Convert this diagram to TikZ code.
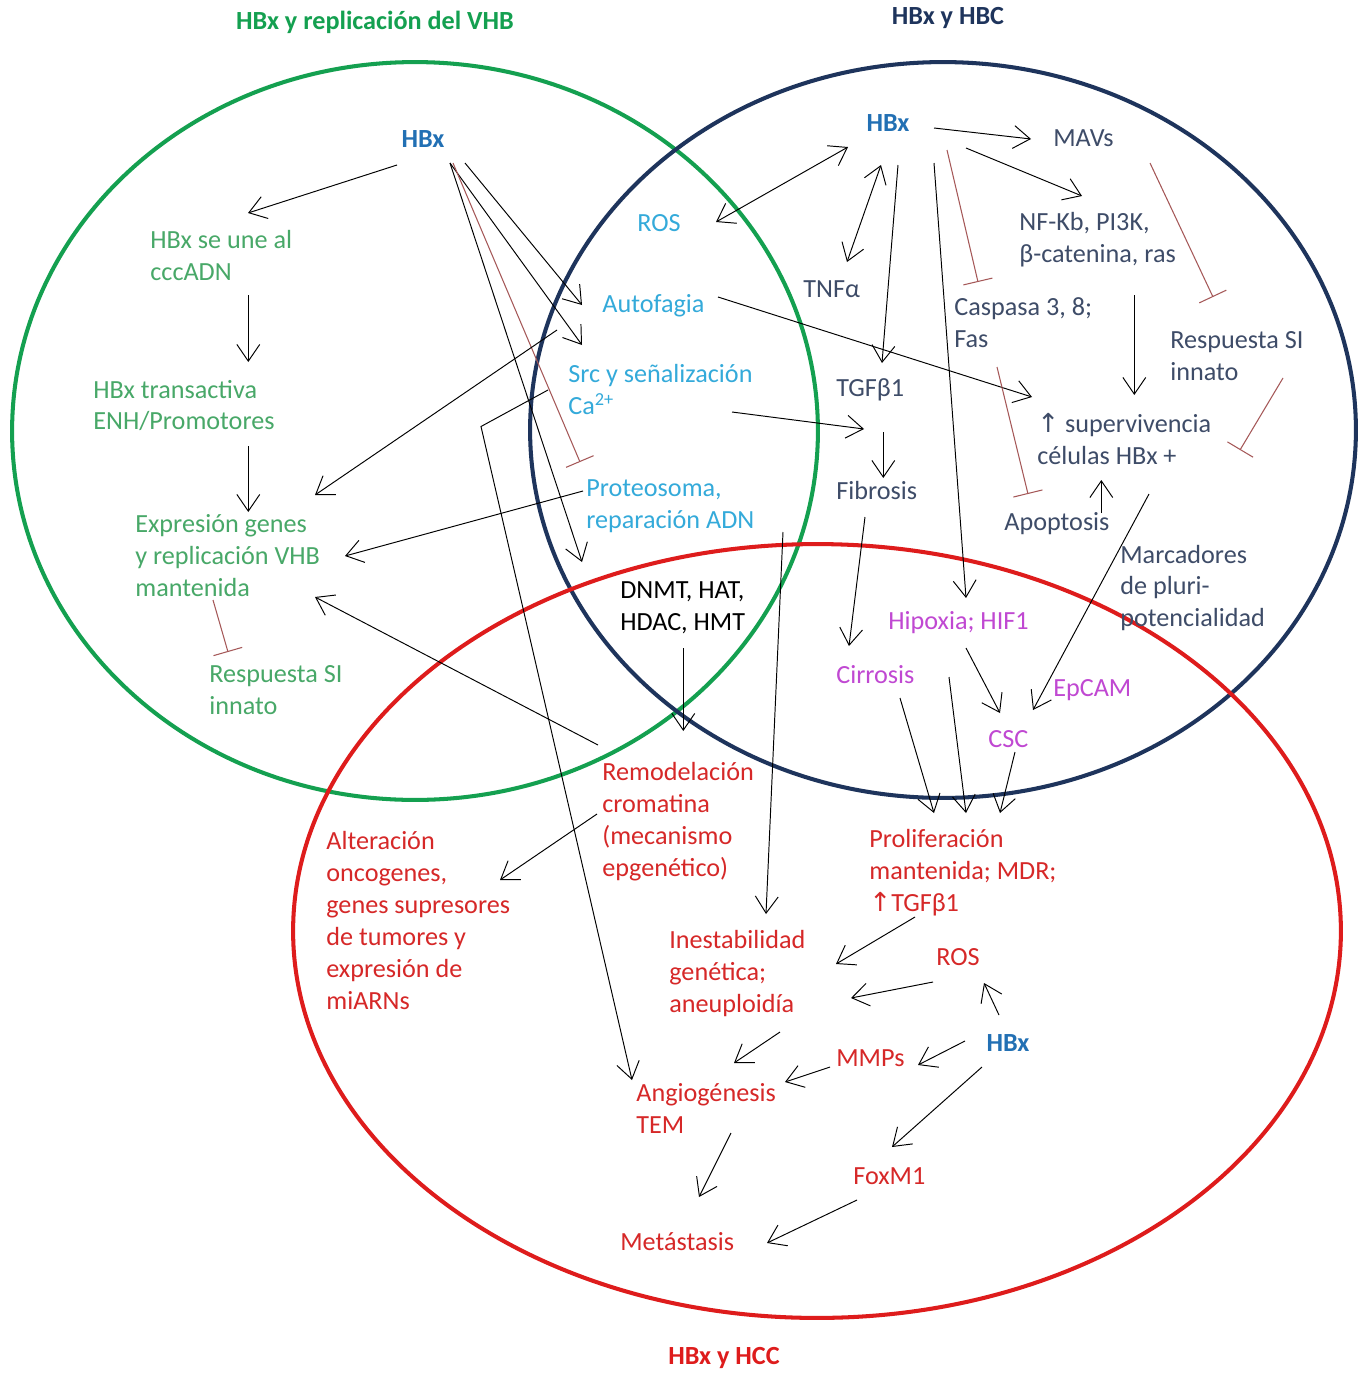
\documentclass[tikz,border=0pt]{standalone}
\usepackage{fontspec}
\setmainfont{Carlito}
\newfontfamily\symf{DejaVu Sans}
\usetikzlibrary{arrows.meta,calc}

\definecolor{ringgreen}{RGB}{20,160,80}
\definecolor{ringnavy}{RGB}{30,52,92}
\definecolor{ringred}{RGB}{222,28,28}
\definecolor{txtgreen}{RGB}{72,168,104}
\definecolor{txtcyan}{RGB}{52,170,218}
\definecolor{txtnavy}{RGB}{62,76,104}
\definecolor{hbxblue}{RGB}{34,112,180}
\definecolor{txtmag}{RGB}{192,72,210}
\definecolor{txtred}{RGB}{214,40,40}
\definecolor{inhcol}{RGB}{165,88,88}

\newcommand\lblfont{\fontsize{14.9pt}{18.2pt}\selectfont}

\tikzset{
  lbl/.style={anchor=west, align=left, inner sep=0pt, font=\lblfont},
  grn/.style={lbl, text=txtgreen},
  cyn/.style={lbl, text=txtcyan},
  nvy/.style={lbl, text=txtnavy},
  blk/.style={lbl, text=black},
  mag/.style={lbl, text=txtmag},
  rdt/.style={lbl, text=txtred},
  hbx/.style={inner sep=0pt, font=\lblfont\bfseries, text=hbxblue},
  ttl/.style={inner sep=0pt, font=\lblfont\bfseries},
  ring/.style={line width=2.3pt},
  tip/.tip={Straight Barb[length=9.5pt,width=13pt,line width=0.55pt]},
  arr/.style={line width=0.55pt, -tip},
  darr/.style={line width=0.55pt, tip-tip},
  inh/.style={draw=inhcol, line width=0.6pt, -{Bar[width=17pt,line width=0.6pt]}}
}

\begin{document}
\begin{tikzpicture}[x=0.02cm, y=-0.02cm]
\useasboundingbox[fill=white] (0,0) rectangle (1365,1373);

% the three overlapping domains
\draw[ring, ringgreen] (415,431) ellipse [x radius=8.06cm, y radius=7.38cm];
\draw[ring, ringnavy] (943,430) ellipse [x radius=8.26cm, y radius=7.36cm];
\draw[ring, ringred] (817,931) ellipse [x radius=10.48cm, y radius=7.74cm];

% titles
\node[ttl, text=ringgreen] (titleG) at (375,22) {HBx y replicación del VHB};
\node[ttl, text=ringnavy] (titleN) at (948,18) {HBx y HBC};
\node[ttl, text=ringred] (titleR) at (724,1358) {HBx y HCC};

% replication domain
\node[hbx] (hbxA) at (423,139) {HBx};
\node[grn] (cccadn) at (150,255.5) {HBx se une al\\cccADN};
\node[grn] (transact) at (93,405.5) {HBx transactiva\\ENH/Promotores};
\node[grn] (expres) at (135,556) {Expresión genes\\y replicación VHB\\mantenida};
\node[grn] (siG) at (209,690.5) {Respuesta SI\\innato};

% shared cellular processes
\node[cyn] (rosA) at (637,223) {ROS};
\node[cyn] (autof) at (602,306) {Autofagia};
\node[cyn] (src) at (568,389.5) {Src y señalización\\Ca\textsuperscript{2+}};
\node[cyn] (proteo) at (586,506.5) {Proteosoma,\\reparación ADN};

% chronic infection domain
\node[hbx] (hbxB) at (888,123) {HBx};
\node[nvy] (mavs) at (1053,138) {MAVs};
\node[nvy] (nfkb) at (1019,240) {NF-Kb, PI3K,\\β-catenina, ras};
\node[nvy] (tnfa) at (803,289) {TNFα};
\node[nvy] (casp) at (954,323) {Caspasa 3, 8;\\Fas};
\node[nvy] (siN) at (1170,356) {Respuesta SI\\innato};
\node[nvy] (tgf) at (836,390) {TGFβ1};
\node[nvy] (superv) at (1037,439) {{\symf ↑} supervivencia\\células HBx +};
\node[nvy] (fibro) at (836,490) {Fibrosis};
\node[nvy] (apopt) at (1004,524) {Apoptosis};
\node[nvy] (marc) at (1120,588) {Marcadores\\de pluri-\\potencialidad};

\node[blk] (dnmt) at (620,607.5) {DNMT, HAT,\\HDAC, HMT};

\node[mag] (hipox) at (888,623) {Hipoxia; HIF1};
\node[mag] (cirr) at (836,675) {Cirrosis};
\node[mag] (epcam) at (1053,690) {EpCAM};
\node[mag] (csc) at (988,739) {CSC};

% carcinoma domain
\node[rdt] (remod) at (602,821.5) {Remodelación\\cromatina\\(mecanismo\\epgenético)};
\node[rdt] (alter) at (326,920.5) {Alteración\\oncogenes,\\genes supresores\\de tumores y\\expresión de\\miARNs};
\node[rdt] (prolif) at (869,873) {Proliferación\\mantenida; MDR;\\{\symf ↑}TGFβ1};
\node[rdt] (inest) at (669,973.5) {Inestabilidad\\genética;\\aneuploidía};
\node[rdt] (rosC) at (936,957) {ROS};
\node[hbx] (hbxC) at (1008,1043) {HBx};
\node[rdt] (mmps) at (836,1058) {MMPs};
\node[rdt] (angio) at (636,1108) {Angiogénesis\\TEM};
\node[rdt] (foxm1) at (853,1176) {FoxM1};
\node[rdt] (metas) at (620,1242) {Metástasis};

% --- connectors: replication domain
\draw[arr] ($(hbxA)+(-26,26)$) -- ($(cccadn.west)+(98,-42.5)$);
\draw[arr] ($(cccadn.west)+(98.3,39.5)$) -- ($(transact.west)+(155.3,-43.5)$);
\draw[arr] ($(transact.west)+(155.3,40.5)$) -- ($(expres.west)+(113.3,-44)$);
\draw[inh] ($(expres.west)+(78,44)$) -- ($(siG.west)+(19,-38.5)$);
\draw[arr] ($(hbxA)+(42,24)$) -- ($(autof.west)+(-20,-1)$);
\draw[arr] ($(hbxA)+(27,24)$) -- ($(src.west)+(14,-44.5)$);
\draw[arr] ($(hbxA)+(27,24)$) -- ($(dnmt.west)+(-38,-45.5)$);
\draw[inh] ($(hbxA)+(30,24)$) -- ($(proteo.west)+(-6,-44.5)$);
\draw[arr] ($(autof.west)+(-45,24)$) -- ($(expres.west)+(180,-61)$);
\draw[arr] ($(proteo.west)+(-3,-15.5)$) -- ($(expres.west)+(210,0)$);
\draw[arr] ($(remod.west)+(-4,-76.5)$) -- ($(expres.west)+(180,41)$);
\draw[arr] ($(src.west)+(-20,0.5)$) -- ($(src.west)+(-87,37)$) -- ($(angio.west)+(-4,-28)$);

% --- connectors: chronic infection domain
\draw[darr] ($(hbxB)+(-40,24)$) -- ($(rosA.west)+(79,-1)$);
\draw[darr] ($(hbxB)+(-7,42)$) -- ($(tnfa.west)+(44,-27)$);
\draw[arr] ($(hbxB)+(10,42)$) -- ($(tgf.west)+(46,-27)$);
\draw[arr] ($(hbxB)+(46,40)$) -- ($(hipox.west)+(78,-25)$);
\draw[inh] ($(hbxB)+(59,27)$) -- ($(casp.west)+(24,-41)$);
\draw[arr] ($(hbxB)+(46,5)$) -- ($(mavs.west)+(-22,1)$);
\draw[arr] ($(hbxB)+(78,25)$) -- ($(nfkb.west)+(63,-44)$);
\draw[inh] ($(mavs.west)+(97,25)$) -- ($(siN.west)+(43,-59)$);
\draw[arr] ($(nfkb.west)+(115.3,55)$) -- ($(superv.west)+(97.3,-44)$);
\draw[inh] ($(siN.west)+(113,22)$) -- ($(superv.west)+(203,11)$);
\draw[arr] ($(autof.west)+(116,-9)$) -- ($(superv.west)+(-5,-42)$);
\draw[arr] ($(src.west)+(164,22.5)$) -- ($(tgf.west)+(28,39)$);
\draw[arr] ($(tgf.west)+(47.3,42)$) -- ($(fibro.west)+(47.3,-12)$);
\draw[inh] ($(casp.west)+(43,44)$) -- ($(apopt.west)+(24,-30)$);
\draw[arr] ($(apopt.west)+(97.3,-11)$) -- ($(superv.west)+(64.3,41)$);
\draw[arr] ($(superv.west)+(112,55)$) -- ($(epcam.west)+(-20,20)$);
\draw[arr] ($(fibro.west)+(29,27)$) -- ($(cirr.west)+(13,-29)$);
\draw[arr] ($(hipox.west)+(78,25)$) -- ($(csc.west)+(12,-26)$);
\draw[arr] ($(cirr.west)+(64,23)$) -- ($(prolif.west)+(65,-60)$);
\draw[arr] ($(hipox.west)+(61,54)$) -- ($(prolif.west)+(97,-60)$);
\draw[arr] ($(csc.west)+(27,13)$) -- ($(prolif.west)+(131,-60)$);
\draw[arr] ($(dnmt.west)+(63.3,40.5)$) -- ($(remod.west)+(81.3,-90.5)$);
\draw[arr] ($(proteo.west)+(197,25.5)$) -- ($(inest.west)+(97,-59.5)$);
\draw[arr] ($(remod.west)+(-5,-7.5)$) -- ($(alter.west)+(174,-40.5)$);

% --- connectors: carcinoma domain
\draw[arr] ($(prolif.west)+(46,44)$) -- ($(inest.west)+(167,-9.5)$);
\draw[arr] ($(rosC.west)+(-3,25)$) -- ($(inest.west)+(182,24.5)$);
\draw[arr] ($(hbxC)+(-9,-28)$) -- ($(rosC.west)+(48,26)$);
\draw[arr] ($(hbxC)+(-43,-2)$) -- ($(mmps.west)+(82,7)$);
\draw[arr] ($(hbxC)+(-26,24)$) -- ($(foxm1.west)+(39,-29)$);
\draw[arr] ($(inest.west)+(111,58.5)$) -- ($(angio.west)+(98,-45)$);
\draw[arr] ($(mmps.west)+(-6,9)$) -- ($(angio.west)+(149,-26)$);
\draw[arr] ($(angio.west)+(95,25)$) -- ($(metas.west)+(79,-45)$);
\draw[arr] ($(foxm1.west)+(4,24)$) -- ($(metas.west)+(147,1)$);
\end{tikzpicture}
\end{document}
